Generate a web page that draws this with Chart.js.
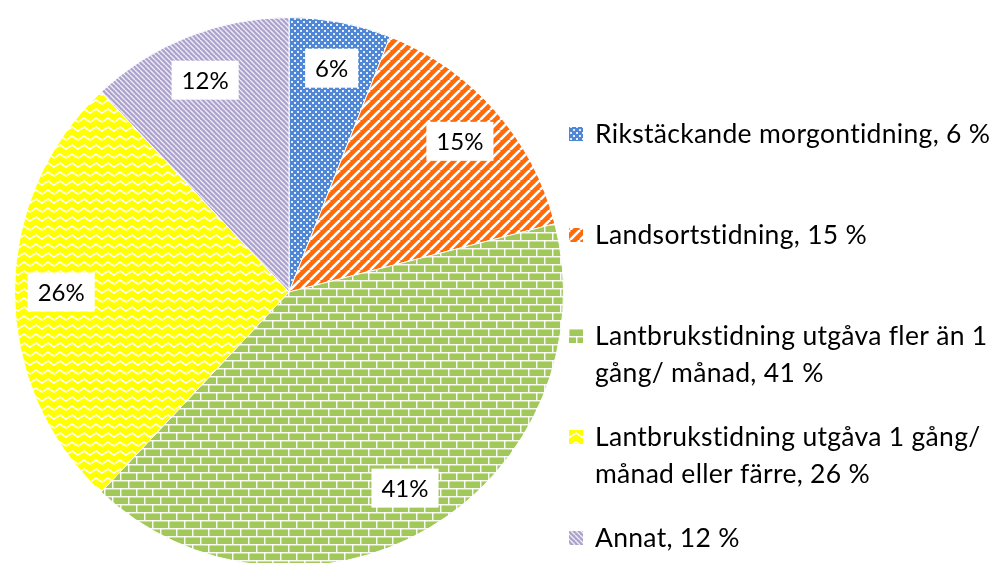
<!DOCTYPE html>
<html>
<head>
<meta charset="utf-8">
<script src="https://cdn.jsdelivr.net/npm/chart.js@4.4.0/dist/chart.umd.min.js"></script>
<style>
  html, body { margin: 0; padding: 0; background: #fff; overflow: hidden; }
  #wrap { width: 994px; height: 575px; position: relative; }
</style>
</head>
<body>
<div id="wrap"><canvas id="chart"></canvas></div>
<script>
// data
const categories = ['Rikstäckande morgontidning', 'Landsortstidning', 'Lantbrukstidning utgåva fler än 1 gång/ månad', 'Lantbrukstidning utgåva 1 gång/ månad eller färre', 'Annat'];
const values = [6, 15, 41, 26, 12];
const colors = ['#5086d6', '#ff6a0a', '#a2c75a', '#ffff00', '#aca1cc'];
const patternKinds = ['dots', 'slash', 'brick', 'zigzag', 'backslash'];

const FONT = 'Lato, "Noto Sans", sans-serif';

// mönster för varje tårtbit
function makePattern(kind, color) {
  const sizes = { dots: [6, 6], slash: [10, 10], brick: [16, 16], zigzag: [12, 9], backslash: [5, 5] };
  const [w, h] = sizes[kind];
  const c = document.createElement('canvas');
  c.width = w; c.height = h;
  const g = c.getContext('2d');
  g.fillStyle = color;
  g.fillRect(0, 0, w, h);
  g.fillStyle = '#fff';
  g.strokeStyle = '#fff';
  if (kind === 'dots') {
    g.fillStyle = 'rgba(255,255,255,0.85)';
    g.fillRect(0, 0, 2, 2);
    g.fillRect(3, 3, 2, 2);
  } else if (kind === 'slash') {
    g.lineWidth = 2.6;
    for (let o = -w; o <= w; o += w) {
      g.beginPath(); g.moveTo(o, h); g.lineTo(o + w, 0); g.stroke();
    }
  } else if (kind === 'backslash') {
    g.strokeStyle = 'rgba(255,255,255,0.8)';
    g.lineWidth = 1.4;
    for (let o = -w; o <= w; o += w) {
      g.beginPath(); g.moveTo(o, 0); g.lineTo(o + w, h); g.stroke();
    }
  } else if (kind === 'brick') {
    g.fillStyle = 'rgba(255,255,255,0.9)';
    g.fillRect(0, 0, w, 1.5);
    g.fillRect(0, 8, w, 1.5);
    g.fillRect(0, 0, 1.5, 8);
    g.fillRect(8, 8, 1.5, 8);
  } else if (kind === 'zigzag') {
    g.lineWidth = 1.5;
    g.beginPath(); g.moveTo(-6, 5); g.lineTo(0, 1); g.lineTo(6, 5); g.lineTo(12, 1); g.lineTo(18, 5); g.stroke();
  }
  return g.createPattern(c, 'repeat');
}

const patterns = patternKinds.map((k, i) => makePattern(k, colors[i]));

const labelPlugin = {
  id: 'sliceLabels',
  afterDatasetsDraw(chart) {
    const ctx = chart.ctx;
    const meta = chart.getDatasetMeta(0);
    ctx.save();
    ctx.font = '24px ' + FONT;
    ctx.textAlign = 'center';
    ctx.textBaseline = 'middle';
    meta.data.forEach((arc, i) => {
      const p = arc.getProps(['x', 'y', 'startAngle', 'endAngle', 'outerRadius'], true);
      const mid = (p.startAngle + p.endAngle) / 2;
      const r = p.outerRadius * 0.83;
      const x = p.x + Math.cos(mid) * r;
      const y = p.y + Math.sin(mid) * r;
      const txt = values[i] + '%';
      const tw = ctx.measureText(txt).width;
      const bw = tw + 20, bh = 39;
      ctx.fillStyle = '#fff';
      ctx.fillRect(x - bw / 2, y - bh / 2, bw, bh);
      ctx.fillStyle = '#000';
      ctx.fillText(txt, x, y + 1);
    });
    ctx.restore();
  }
};

const legendPlugin = {
  id: 'sideLegend',
  afterDraw(chart) {
    const ctx = chart.ctx;
    ctx.save();
    ctx.font = '26.5px ' + FONT;
    ctx.letterSpacing = '0.3px'; // stänger även av ligaturer
    ctx.textBaseline = 'middle';
    ctx.textAlign = 'left';
    const maxW = 400;
    categories.forEach((cat, i) => {
      const words = (cat + ', ' + values[i] + ' %').split(' ');
      const lines = [];
      let cur = '';
      words.forEach(wd => {
        const t = cur ? cur + ' ' + wd : wd;
        if (ctx.measureText(t).width > maxW && cur) { lines.push(cur); cur = wd; }
        else cur = t;
      });
      lines.push(cur);
      const y0 = 134 + i * 101;
      ctx.fillStyle = patterns[i];
      ctx.fillRect(569, y0 - 7, 14, 14);
      ctx.fillStyle = '#000';
      lines.forEach((ln, j) => ctx.fillText(ln, 595, y0 + j * 37));
    });
    ctx.restore();
  }
};

new Chart(document.getElementById('chart'), {
  type: 'pie',
  data: {
    labels: categories,
    datasets: [{
      data: values,
      backgroundColor: patterns,
      borderColor: '#fff',
      borderWidth: 1
    }]
  },
  options: {
    responsive: true,
    maintainAspectRatio: false,
    animation: false,
    layout: { padding: { left: 14, top: 17, right: 430, bottom: 8 } },
    plugins: {
      legend: { display: false },
      tooltip: { enabled: false }
    }
  },
  plugins: [labelPlugin, legendPlugin]
});
</script>
</body>
</html>
